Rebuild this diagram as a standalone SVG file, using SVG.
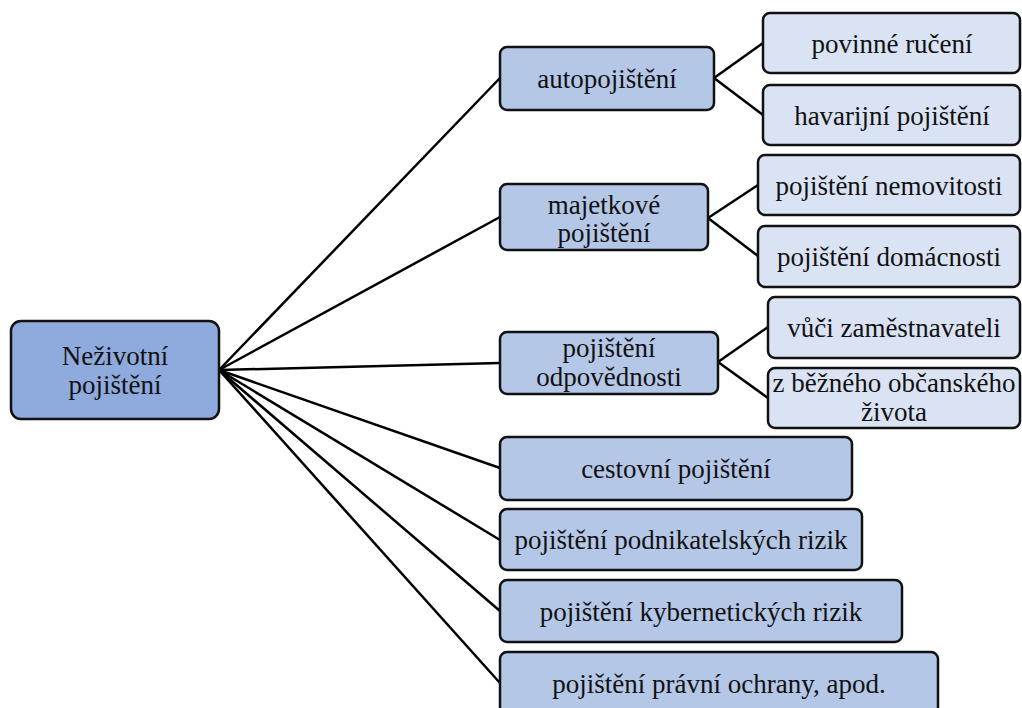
<svg xmlns="http://www.w3.org/2000/svg" width="1022" height="708" viewBox="0 0 1022 708">
<style>
.box{stroke:#111;stroke-width:2.5}
.r{fill:#8FAADC}
.l1{fill:#B4C7E7}
.l2{fill:#DAE3F3}
.t{font-size:27px;fill:#111;text-anchor:middle}
.c line{stroke:#000;stroke-width:2.5}
</style>
<rect width="1022" height="708" fill="#fff"/>
<g class="c" id="connectors">
<line x1="219" y1="370" x2="500" y2="78"/>
<line x1="219" y1="370" x2="500" y2="217"/>
<line x1="219" y1="370" x2="500" y2="363"/>
<line x1="219" y1="370" x2="500" y2="468"/>
<line x1="219" y1="370" x2="500" y2="540"/>
<line x1="219" y1="370" x2="500" y2="611"/>
<line x1="219" y1="370" x2="500" y2="683"/>
<line x1="714" y1="78" x2="763" y2="43"/>
<line x1="714" y1="78" x2="763" y2="115"/>
<line x1="708" y1="218" x2="758" y2="185"/>
<line x1="708" y1="218" x2="758" y2="256"/>
<line x1="718" y1="362" x2="768" y2="327"/>
<line x1="718" y1="362" x2="768" y2="398"/>
</g>
<g class="t" font-family="'Liberation Serif', 'Times New Roman', 'DejaVu Serif', serif">
<g id="root"><rect class="box r" x="11" y="321" width="208" height="98" rx="10"/><text x="115" y="365">Neživotní</text><text x="115" y="394">pojištění</text></g>
<g id="auto"><rect class="box l1" x="500" y="47" width="214" height="63" rx="7"/><text x="607" y="88">autopojištění</text></g>
<g id="majetek"><rect class="box l1" x="500" y="184" width="208" height="66" rx="7"/><text x="604" y="214">majetkové</text><text x="604" y="242">pojištění</text></g>
<g id="odpovednost"><rect class="box l1" x="500" y="332" width="218" height="62" rx="7"/><text x="609" y="357">pojištění</text><text x="609" y="386">odpovědnosti</text></g>
<g id="cestovni"><rect class="box l1" x="500" y="437" width="352" height="63" rx="7"/><text x="676" y="478">cestovní pojištění</text></g>
<g id="podnikatel"><rect class="box l1" x="500" y="509" width="362" height="61" rx="7"/><text x="681" y="549">pojištění podnikatelských rizik</text></g>
<g id="kyber"><rect class="box l1" x="500" y="580" width="402" height="62" rx="7"/><text x="701" y="621">pojištění kybernetických rizik</text></g>
<g id="pravni"><rect class="box l1" x="500" y="652" width="438" height="66" rx="7"/><text x="719" y="693">pojištění právní ochrany, apod.</text></g>
<g id="povinne"><rect class="box l2" x="763" y="13" width="257" height="60" rx="7"/><text x="892" y="53">povinné ručení</text></g>
<g id="havarijni"><rect class="box l2" x="763" y="85" width="257" height="60" rx="7"/><text x="892" y="125">havarijní pojištění</text></g>
<g id="nemovitost"><rect class="box l2" x="758" y="155" width="262" height="60" rx="7"/><text x="889" y="195">pojištění nemovitosti</text></g>
<g id="domacnost"><rect class="box l2" x="758" y="226" width="262" height="61" rx="7"/><text x="889" y="266">pojištění domácnosti</text></g>
<g id="zamestnavatel"><rect class="box l2" x="768" y="297" width="252" height="61" rx="7"/><text x="894" y="337">vůči zaměstnavateli</text></g>
<g id="obcansky"><rect class="box l2" x="768" y="368" width="252" height="60" rx="7"/><text x="894" y="392">z běžného občanského</text><text x="894" y="421">života</text></g>
</g>
</svg>
